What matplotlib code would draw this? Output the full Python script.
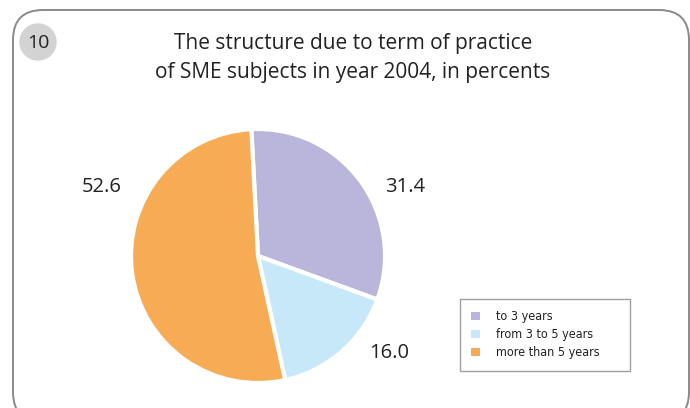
import matplotlib
matplotlib.use("Agg")
import matplotlib.pyplot as plt
from matplotlib.patches import FancyBboxPatch, Circle
from matplotlib.font_manager import FontProperties

categories = ["to 3 years", "from 3 to 5 years", "more than 5 years"]
values = [31.4, 16.0, 52.6]
value_labels = ["31.4", "16.0", "52.6"]
colors = ["#bab6db", "#c6e8f8", "#f8ab55"]
title = "The structure due to term of practice\nof SME subjects in year 2004, in percents"
badge = "10"

W, H = 690, 408
fig = plt.figure(figsize=(W / 100, H / 100), dpi=100)
plt.rcParams['font.family'] = ['Open Sans', 'DejaVu Sans']

# overlay axes in pixel coordinates (y up)
bax = fig.add_axes([0, 0, 1, 1], facecolor="none")
bax.set_xlim(0, W)
bax.set_ylim(0, H)
bax.axis("off")
frame = FancyBboxPatch((13, -14), 676, 412,
                       boxstyle="round,pad=0,rounding_size=30",
                       fill=False, edgecolor="#8a8a8a", linewidth=1.4,
                       clip_on=True)
bax.add_patch(frame)

# badge and title
bax.add_patch(Circle((38, H - 42), 18, color="#d3d3d3", zorder=1))
bax.text(38, H - 43, badge, ha="center", va="center", fontsize=14, color="#222222")
bax.text(353, H - 58, title, ha="center", va="center", fontsize=15,
         color="#222222", linespacing=1.45)

# pie
cx, cy, r = 258, 256, 127
ax = fig.add_axes([(cx - r) / W, (H - cy - r) / H, 2 * r / W, 2 * r / H])
wedges, _ = ax.pie(values, colors=colors, startangle=93, counterclock=False,
                   wedgeprops=dict(edgecolor="white", linewidth=3))
ax.set_xlim(-1, 1)
ax.set_ylim(-1, 1)
ax.set_aspect("auto")

label_pos = [(1.16, 0.54), (1.03, -0.76), (-1.23, 0.54)]
for (x, y), t in zip(label_pos, value_labels):
    ax.text(x, y, t, ha="center", va="center", fontsize=14.5, color="#222222",
            clip_on=False)

legfont = FontProperties(family="DejaVu Sans", stretch="condensed", size=9)
leg = fig.legend(wedges, categories, loc="upper left",
                 bbox_to_anchor=(460 / W, 1 - 299 / H - 0.01, 170 / W, 0.01),
                 mode="expand", prop=legfont,
                 frameon=True, fancybox=False, edgecolor="#888888",
                 handlelength=0.7, handleheight=0.7,
                 handletextpad=1.3, borderpad=0.9, labelspacing=0.4,
                 borderaxespad=0)
for h in leg.legend_handles:
    h.set_edgecolor("none")
for t in leg.get_texts():
    t.set_color("#222222")
leg.get_frame().set_linewidth(1.0)

fig.savefig("out.png", dpi=100)
